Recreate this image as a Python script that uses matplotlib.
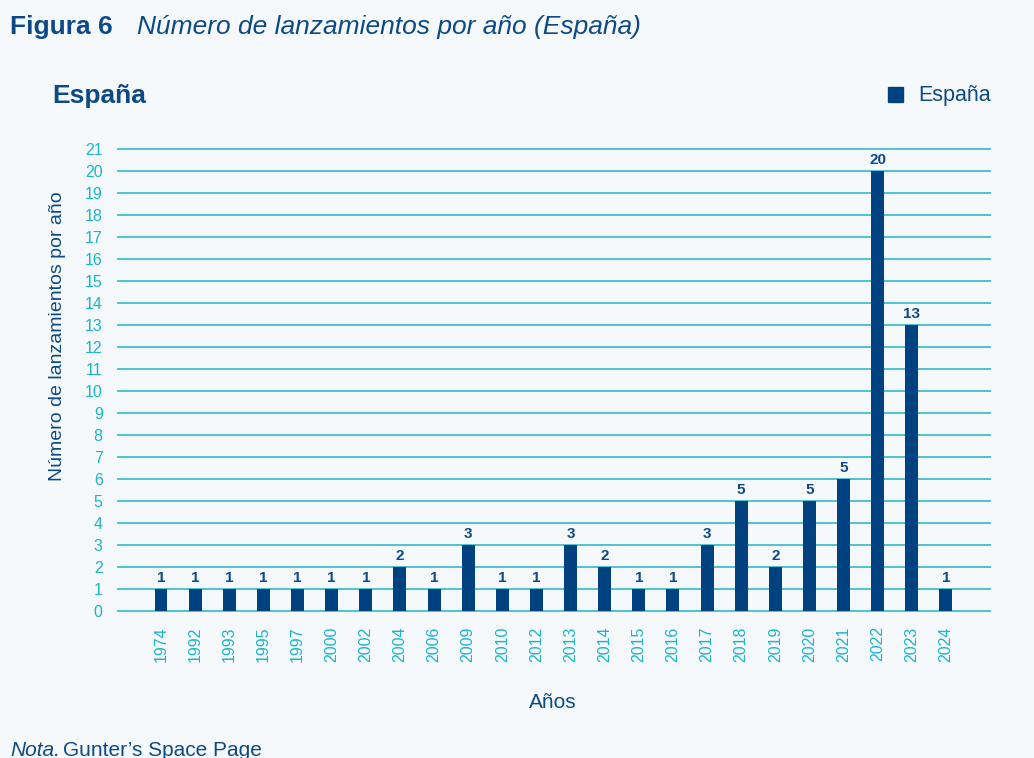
import matplotlib
matplotlib.use("Agg")
import matplotlib.pyplot as plt
import numpy as np

years = ["1974", "1992", "1993", "1995", "1997", "2000", "2002", "2004", "2006",
         "2009", "2010", "2012", "2013", "2014", "2015", "2016", "2017", "2018",
         "2019", "2020", "2021", "2022", "2023", "2024"]
launches = [1, 1, 1, 1, 1, 1, 1, 2, 1, 3, 1, 1, 3, 2, 1, 1, 3, 5, 2, 5, 6, 20, 13, 1]
# labels as printed in the original (2021 bar is drawn at 6 but labelled 5)
value_labels = ["1", "1", "1", "1", "1", "1", "1", "2", "1", "3", "1", "1", "3", "2",
                "1", "1", "3", "5", "2", "5", "5", "20", "13", "1"]
y_ticks = list(range(0, 22))

bg = "#f5f9fc"
dark = "#00427f"
text_blue = "#0d4a85"
teal = "#4cc3d4"
tick_col = "#1ab4cb"

plt.rcParams['font.family'] = ['Liberation Sans', 'DejaVu Sans']

fig = plt.figure(figsize=(10.34, 7.58), dpi=100, facecolor=bg)
ax = fig.add_axes([118/1034, 1-611/758, (990-118)/1034, (611-149)/758])
ax.set_facecolor(bg)

x = np.arange(len(years))
ax.bar(x, launches, width=0.38, color=dark, zorder=3)
for xi, h, lab in zip(x, launches, value_labels):
    ax.text(xi, h + 0.2, lab, ha="center", va="bottom", fontsize=11,
            fontweight="bold", color=text_blue, zorder=4, clip_on=False)

ax.set_xlim(-1.26, 24.29)
ax.set_ylim(0, 21)
ax.set_yticks(y_ticks)
ax.set_yticklabels([str(v) for v in y_ticks])
ax.set_xticks(x)
ax.set_xticklabels(years, rotation=90)
ax.tick_params(axis="y", length=0, pad=11, labelsize=11.5, labelcolor=tick_col)
ax.tick_params(axis="x", length=0, pad=11, labelsize=11.5, labelcolor=tick_col)
ax.grid(axis="y", color=teal, linewidth=1.4, zorder=0, clip_on=False)
for s in ax.spines.values():
    s.set_visible(False)

ax.set_ylabel("Número de lanzamientos por año", fontsize=14, color=text_blue)
ax.yaxis.set_label_coords(-(118-66)/872, (611-336)/462)
ax.set_xlabel("Años", fontsize=15, color=text_blue)
ax.xaxis.set_label_coords((553-118)/872, -(703-611)/462)
ax.xaxis.label.set_va("center")

# headings
fig.text(10/1034, 1-27/758, "Figura 6", fontsize=19, fontweight="heavy",
         color=text_blue, va="center", ha="left")
fig.text(137/1034, 1-27/758, "Número de lanzamientos por año (España)", fontsize=19,
         style="italic", color=text_blue, va="center", ha="left")
fig.text(52/1034, 1-96/758, "España", fontsize=19, fontweight="bold",
         color=text_blue, va="center", ha="left")

# legend
fig.patches.append(plt.Rectangle((888/1034, 1-102/758), 15/1034, 15/758,
                                 transform=fig.transFigure, color=dark))
fig.text(918/1034, 1-96/758, "España", fontsize=15.5, color=text_blue,
         va="center", ha="left")

fig.text(10/1034, 1-750/758, "Nota.", fontsize=15, style="italic",
         color=text_blue, va="center", ha="left")
fig.text(63/1034, 1-750/758, "Gunter’s Space Page", fontsize=15,
         color=text_blue, va="center", ha="left")

fig.savefig("out.png", dpi=100, facecolor=bg)
